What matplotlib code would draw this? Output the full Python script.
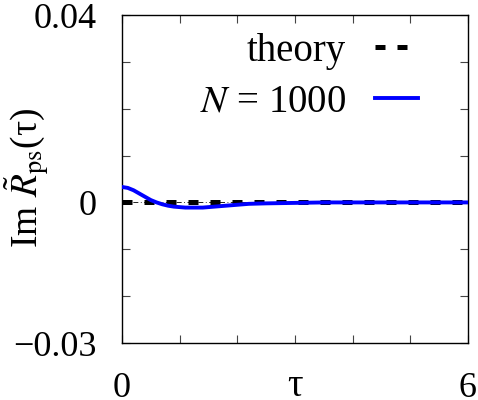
import matplotlib
matplotlib.use("Agg")
import matplotlib.pyplot as plt
import numpy as np

plt.rcParams['font.family'] = ['Liberation Serif', 'DejaVu Serif']
plt.rcParams['mathtext.fontset'] = 'stix'

# data
tau = [0.0, 0.1, 0.2, 0.3, 0.4, 0.5, 0.6, 0.7, 0.8, 0.9, 1.0, 1.1, 1.2, 1.3, 1.4,
       1.5, 1.6, 1.8, 2.0, 2.2, 2.5, 3.0, 3.5, 4.0, 4.5, 5.0, 5.5, 6.0]
im_R = [0.0033, 0.0031, 0.0026, 0.0019, 0.0012, 0.0005, 0.0000, -0.0004, -0.0007,
        -0.0009, -0.0010, -0.0011, -0.0011, -0.0011, -0.0011, -0.0010, -0.0009,
        -0.0007, -0.0005, -0.0003, -0.0002, -0.0001, 0.0, 0.0, 0.0, 0.0, 0.0, 0.0]
theory_tau = [0.0, 6.0]
theory_val = [0.0, 0.0]
xticks = [0, 1, 2, 3, 4, 5, 6]
xticklabels = ['0', '', '', '', '', '', '6']
yticks = [-0.03, -0.02, -0.01, 0.0, 0.01, 0.02, 0.03, 0.04]
yticklabels = ['\u22120.03', '', '', '0', '', '', '', '0.04']

fig = plt.figure(figsize=(4.78, 4.00), dpi=100)
ax = fig.add_axes([122/478, 1-343/400, 346/478, 328/400])

ax.plot([0, 6], [0, 0], color='black', lw=0.6, linestyle=(0, (6, 3, 1, 3)), zorder=1)
ax.plot(theory_tau, theory_val, color='black', lw=3.6, linestyle=(0, (2.0, 2.4)),
        label='theory', zorder=2)
ax.plot(tau, im_R, color='#0000ff', lw=2.8, label=r'$N$ = 1000', zorder=3)

ax.set_xlim(0, 6)
ax.set_ylim(-0.03, 0.04)
ax.set_xticks(xticks)
ax.set_xticklabels(xticklabels)
ax.set_yticks(yticks)
ax.set_yticklabels(yticklabels)
ax.tick_params(direction='in', length=6, width=0.8, top=True, right=True,
               labelsize=26, color='#444444')
ax.tick_params(axis='y', pad=18)
ax.tick_params(axis='x', pad=21)
for s in ax.spines.values():
    s.set_linewidth(1.0)

ax.text(0.5, -0.1616, '\u03c4', transform=ax.transAxes, ha='center',
        va='baseline', fontsize=28)
fig.text(27/478, 1-178/400, 'Im $\\tilde{R}_{\\mathrm{ps}}$(\u03c4)',
         rotation=90, ha='center', va='center', fontsize=27)

leg = ax.legend(loc='upper right', bbox_to_anchor=(0.855, 0.945), frameon=False,
                fontsize=28, markerfirst=False, handlelength=1.1,
                handletextpad=0.75, borderpad=0, borderaxespad=0,
                labelspacing=0.35)
leg.get_texts()[1].set_text(r'$N$ = 1000')

fig.savefig('out.png', dpi=100)
